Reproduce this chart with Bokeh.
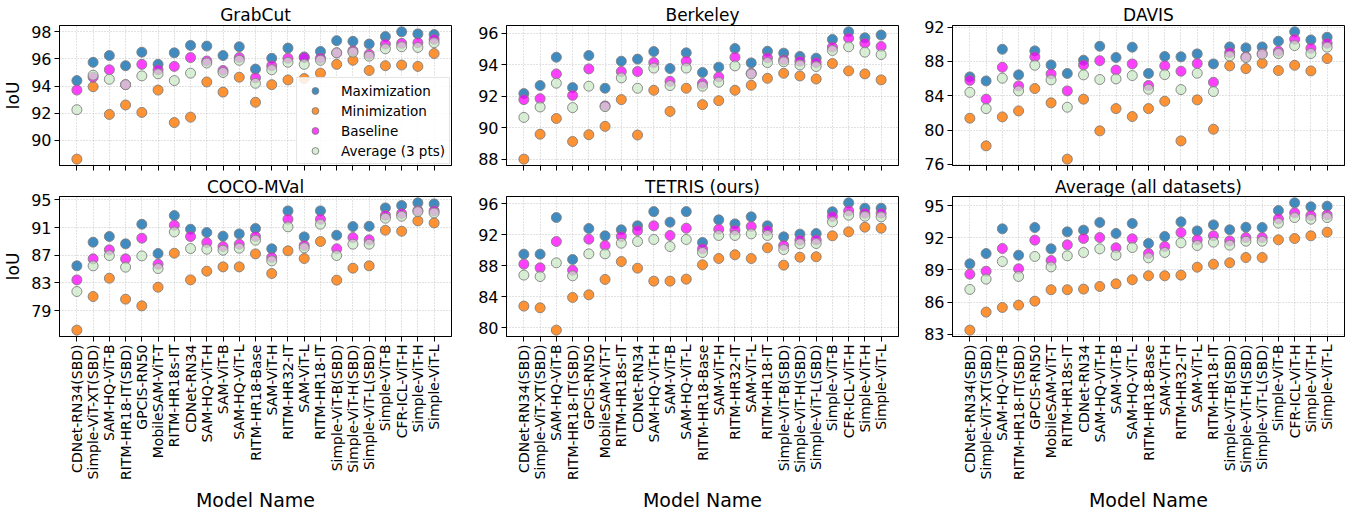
import math
from bokeh.plotting import figure
from bokeh.models import Range1d, FixedTicker, CustomLabelingPolicy
from bokeh.layouts import column, row
from bokeh.embed import file_html
from bokeh.resources import INLINE

models = ["CDNet-RN34(SBD)", "Simple-ViT-XT(SBD)", "SAM-HQ-ViT-B", "RITM-HR18-IT(SBD)",
          "GPCIS-RN50", "MobileSAM-ViT-T", "RITM-HR18s-IT", "CDNet-RN34", "SAM-HQ-ViT-H",
          "SAM-ViT-B", "SAM-HQ-ViT-L", "RITM-HR18-Base", "SAM-ViT-H", "RITM-HR32-IT",
          "SAM-ViT-L", "RITM-HR18-IT", "Simple-ViT-B(SBD)", "Simple-ViT-H(SBD)",
          "Simple-ViT-L(SBD)", "Simple-ViT-B", "CFR-ICL-ViT-H", "Simple-ViT-H", "Simple-ViT-L"]

series_names = ["Maximization", "Minimization", "Baseline", "Average (3 pts)"]

grabcut_max = [94.4, 95.75, 96.25, 95.5, 96.5, 95.6, 96.45, 97.0, 96.95, 96.25, 96.9, 95.25, 96.05, 96.8, 96.15, 96.55, 97.35, 97.3, 97.1, 97.65, 98.0, 97.85, 97.8]
grabcut_min = [88.6, 93.95, 91.9, 92.6, 92.05, 93.7, 91.3, 91.7, 94.3, 93.55, 94.65, 92.8, 94.1, 94.45, 94.55, 94.95, 95.6, 95.9, 95.15, 95.5, 95.55, 95.45, 96.4]
grabcut_base = [93.7, 94.65, 95.2, 94.1, 95.6, 95.2, 95.45, 96.1, 95.85, 95.15, 96.1, 94.6, 95.5, 96.05, 96.1, 96.05, 96.45, 96.6, 96.35, 97.1, 97.15, 97.2, 97.45]
grabcut_avg = [92.25, 94.8, 94.5, 94.1, 94.75, 94.9, 94.4, 94.95, 95.7, 95.0, 95.9, 94.2, 95.2, 95.75, 95.6, 95.9, 96.45, 96.5, 96.2, 96.75, 96.9, 96.85, 97.2]

berkeley_max = [92.18, 92.69, 94.49, 92.56, 94.6, 92.52, 94.24, 94.37, 94.85, 93.77, 94.77, 93.52, 93.86, 95.04, 94.13, 94.87, 94.75, 94.54, 94.43, 95.62, 96.1, 95.72, 95.9]
berkeley_min = [88.02, 89.6, 90.6, 89.14, 89.57, 90.1, 91.8, 89.55, 92.39, 91.05, 92.52, 91.48, 91.73, 92.39, 92.71, 93.15, 93.47, 93.3, 93.11, 94.09, 93.62, 93.43, 93.05]
berkeley_base = [91.8, 91.86, 93.43, 92.07, 93.75, 91.4, 93.58, 93.58, 94.15, 92.96, 94.24, 92.82, 93.24, 94.49, 93.47, 94.45, 94.32, 94.24, 94.15, 95.13, 95.7, 95.38, 95.17]
berkeley_avg = [90.67, 91.33, 92.84, 91.29, 92.65, 91.35, 93.18, 92.52, 93.8, 92.69, 93.8, 92.65, 92.9, 93.94, 93.43, 94.15, 94.2, 94.0, 93.9, 94.92, 95.15, 94.81, 94.66]

davis_max = [86.2, 85.73, 89.43, 86.44, 89.24, 87.6, 86.6, 88.15, 89.78, 88.47, 89.67, 86.6, 88.58, 88.54, 88.89, 87.72, 89.7, 89.59, 89.7, 90.37, 91.46, 90.52, 90.83]
davis_min = [81.38, 78.15, 81.53, 82.23, 84.84, 83.17, 76.6, 83.6, 79.9, 82.5, 81.57, 82.5, 83.36, 78.73, 83.52, 80.09, 87.49, 87.17, 87.8, 86.94, 87.56, 86.9, 88.34]
davis_base = [85.8, 83.6, 87.33, 85.15, 88.54, 86.55, 84.57, 87.6, 88.1, 87.0, 87.72, 85.2, 87.49, 86.86, 87.76, 85.58, 89.04, 88.54, 88.93, 89.2, 90.6, 89.55, 90.13]
davis_avg = [84.4, 82.5, 86.05, 84.57, 87.56, 85.85, 82.66, 86.44, 85.9, 85.97, 86.36, 84.76, 86.47, 84.72, 86.63, 84.49, 88.65, 88.46, 88.85, 88.93, 89.86, 88.93, 89.67]

coco_max = [85.46, 88.88, 89.7, 88.64, 91.48, 87.24, 92.73, 90.76, 90.28, 89.75, 90.08, 90.86, 87.92, 93.41, 89.65, 93.41, 89.89, 91.14, 91.19, 93.84, 94.18, 94.57, 94.42]
coco_min = [76.16, 81.02, 83.67, 80.64, 79.67, 82.37, 87.29, 83.43, 84.69, 85.31, 85.31, 87.19, 84.35, 87.63, 86.52, 88.98, 83.39, 85.12, 85.46, 90.61, 90.47, 91.96, 91.67]
coco_base = [83.43, 86.47, 87.77, 86.47, 89.46, 85.7, 91.34, 89.7, 88.83, 88.25, 88.59, 89.7, 86.66, 92.2, 88.4, 92.2, 87.92, 89.55, 89.22, 92.78, 93.02, 93.46, 93.41]
coco_avg = [81.75, 85.46, 86.95, 85.27, 86.9, 85.07, 90.37, 87.96, 87.87, 87.72, 88.01, 89.17, 86.18, 91.1, 88.06, 91.48, 86.95, 88.59, 88.59, 92.35, 92.64, 93.31, 93.12]

tetris_max = [89.49, 89.49, 94.23, 88.8, 92.81, 91.86, 92.64, 93.16, 95.0, 93.63, 95.0, 91.0, 93.93, 93.41, 94.32, 93.16, 91.73, 92.08, 92.16, 94.97, 96.13, 95.44, 95.44]
tetris_min = [82.77, 82.55, 79.66, 83.89, 84.23, 86.22, 88.54, 87.68, 86.0, 86.0, 86.26, 88.11, 88.93, 89.41, 88.93, 90.31, 88.07, 89.1, 89.15, 91.86, 92.38, 92.98, 92.85]
tetris_base = [88.2, 87.72, 91.13, 87.42, 91.43, 90.61, 91.78, 92.55, 93.16, 91.91, 92.85, 90.18, 92.72, 92.6, 93.07, 92.55, 90.61, 91.3, 91.34, 94.36, 95.09, 94.79, 94.79]
tetris_avg = [86.78, 86.6, 88.37, 86.69, 89.53, 89.53, 90.91, 91.13, 91.39, 90.48, 91.39, 89.71, 91.91, 91.91, 92.12, 91.91, 90.09, 90.83, 90.87, 93.67, 94.53, 94.4, 94.32]

overall_max = [89.57, 90.53, 92.83, 90.38, 92.95, 90.97, 92.55, 92.71, 93.42, 92.4, 93.33, 91.47, 92.12, 93.48, 92.64, 93.2, 92.74, 92.98, 92.95, 94.53, 95.25, 94.88, 94.94]
overall_min = [83.4, 85.08, 85.51, 85.73, 86.1, 87.16, 87.16, 87.22, 87.47, 87.71, 88.09, 88.46, 88.46, 88.52, 89.26, 89.54, 89.67, 90.16, 90.16, 91.81, 91.93, 92.18, 92.52]
overall_base = [88.61, 88.89, 91.0, 89.11, 91.78, 89.88, 91.34, 91.93, 92.02, 91.06, 91.9, 90.53, 91.19, 92.49, 91.81, 92.18, 91.71, 92.02, 92.02, 93.76, 94.32, 94.07, 94.13]
overall_avg = [87.19, 88.15, 89.79, 88.4, 90.26, 89.29, 90.32, 90.63, 90.97, 90.38, 91.09, 90.13, 90.63, 91.53, 91.28, 91.59, 91.31, 91.68, 91.68, 93.36, 93.88, 93.73, 93.88]

titles = ["GrabCut", "Berkeley", "DAVIS", "COCO-MVal", "TETRIS (ours)", "Average (all datasets)"]
yticks_grabcut = [90, 92, 94, 96, 98]
yticks_berkeley = [88, 90, 92, 94, 96]
yticks_davis = [76, 80, 84, 88, 92]
yticks_coco = [79, 83, 87, 91, 95]
yticks_tetris = [80, 84, 88, 92, 96]
yticks_overall = [83, 86, 89, 92, 95]

panels = [
    (titles[0], [grabcut_max, grabcut_min, grabcut_base, grabcut_avg], yticks_grabcut),
    (titles[1], [berkeley_max, berkeley_min, berkeley_base, berkeley_avg], yticks_berkeley),
    (titles[2], [davis_max, davis_min, davis_base, davis_avg], yticks_davis),
    (titles[3], [coco_max, coco_min, coco_base, coco_avg], yticks_coco),
    (titles[4], [tetris_max, tetris_min, tetris_base, tetris_avg], yticks_tetris),
    (titles[5], [overall_max, overall_min, overall_base, overall_avg], yticks_overall),
]

colors = ["#1f77b4", "#ff7f0e", "#ff00ff", "#c8e8c4"]
alphas = [0.85, 0.85, 0.75, 0.7]
FONT = "DejaVu Sans"
FW, FH = 392, 140
borders_lr = [(54, 5), (50, 5), (49, 1)]

xs = list(range(len(models)))

hide_all = CustomLabelingPolicy(code="""
const out = [];
for (const i of indices) out.push(i);
for (const i of out) indices.unset(i);
return indices;
""")

def make(idx):
    title, series, yt = panels[idx]
    r, c = divmod(idx, 3)
    allv = [v for s in series for v in s]
    lo, hi = min(allv), max(allv)
    pad = 0.05 * (hi - lo)
    bl, br = borders_lr[c]
    p = figure(frame_width=FW, frame_height=FH,
               x_range=Range1d(-1.07, len(models) - 1 + 1.07),
               y_range=Range1d(lo - pad, hi + pad),
               output_backend="svg", toolbar_location=None,
               min_border_left=bl, min_border_right=br,
               min_border_top=(25 if r == 0 else 18),
               min_border_bottom=(5 if r == 0 else 170),
               background_fill_color="white", border_fill_color="white")
    p.title.text = title
    p.title.align = "center"
    p.title.text_font = FONT
    p.title.text_font_size = "17px"
    p.title.text_font_style = "normal"
    p.title.text_color = "black"
    p.title.standoff = (2 if r == 0 else 0)
    p.outline_line_color = "black"
    p.outline_line_width = 1
    p.outline_line_alpha = 1

    p.xaxis.ticker = FixedTicker(ticks=xs)
    p.xgrid.ticker = FixedTicker(ticks=xs)
    p.yaxis.ticker = FixedTicker(ticks=yt)
    p.ygrid.ticker = FixedTicker(ticks=yt)
    for g in (p.xgrid, p.ygrid):
        g.grid_line_color = "#b0b0b0"
        g.grid_line_alpha = 0.75
        g.grid_line_dash = "1 2"
        g.grid_line_width = 1
    for ax in (p.xaxis, p.yaxis):
        ax.axis_line_color = "black"
        ax.major_tick_line_color = "black"
        ax.major_tick_out = 5
        ax.major_tick_in = 0
        ax.minor_tick_line_color = None
        ax.major_label_text_font = FONT
        ax.major_label_text_color = "black"
        ax.axis_label_text_font = FONT
        ax.axis_label_text_font_style = "normal"
        ax.axis_label_text_color = "black"
    p.yaxis.major_label_text_font_size = "16px"
    p.yaxis.major_label_standoff = 3
    if c == 0:
        p.yaxis.axis_label = "IoU"
        p.yaxis.axis_label_text_font_size = "17px"
        p.yaxis.axis_label_standoff = 5
    if r == 0:
        p.xaxis.major_label_policy = hide_all
        p.xaxis.major_label_text_font_size = "1px"
        p.xaxis.major_label_standoff = 0
    else:
        p.xaxis.major_label_overrides = {i: m for i, m in enumerate(models)}
        p.xaxis.major_label_orientation = math.pi / 2
        p.xaxis.major_label_text_font_size = "14px"
        p.xaxis.major_label_standoff = 3
        p.xaxis.axis_label = "Model Name"
        p.xaxis.axis_label_text_font_size = "19px"
        p.xaxis.axis_label_standoff = 6

    for s, name, col, a in zip(series, series_names, colors, alphas):
        kw = dict(x=xs, y=s, size=10, fill_color=col, fill_alpha=a,
                  line_color="#7f7f7f", line_alpha=0.9, line_width=1)
        if idx == 0:
            kw["legend_label"] = name
        p.scatter(**kw)

    if idx == 0:
        lg = p.legend[0]
        lg.location = "bottom_right"
        lg.margin = 1
        lg.padding = 4
        lg.spacing = 3
        lg.glyph_width = 28
        lg.glyph_height = 17
        lg.label_height = 17
        lg.label_standoff = 12
        lg.label_text_font = FONT
        lg.label_text_font_size = "13.5px"
        lg.label_text_color = "black"
        lg.border_line_color = "#cccccc"
        lg.border_line_width = 1
        lg.background_fill_alpha = 0.85
    return p

figs = [make(i) for i in range(6)]
layout = column(row(*figs[:3]), row(*figs[3:]))
open("out.html", "w").write(file_html(layout, INLINE))
